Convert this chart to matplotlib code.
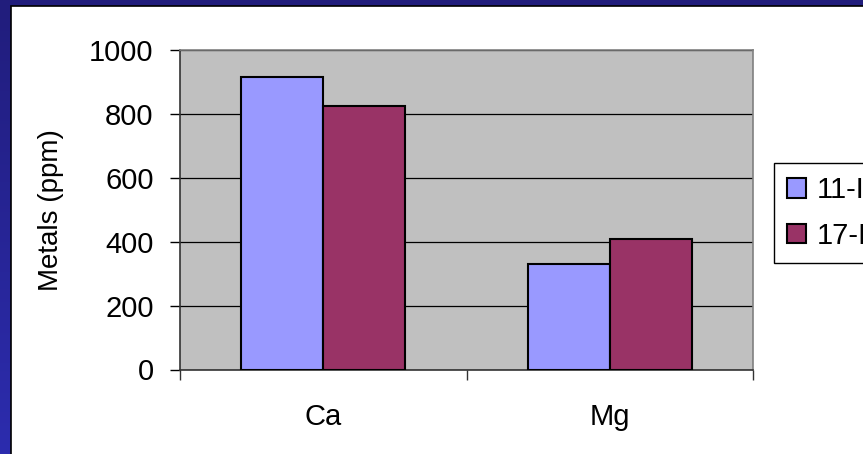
import numpy as np
import matplotlib
matplotlib.use("Agg")
import matplotlib.pyplot as plt
from matplotlib.patches import Rectangle
from matplotlib.colors import LinearSegmentedColormap

plt.rcParams['font.family'] = ['Liberation Sans', 'DejaVu Sans']

categories = ["Ca", "Mg"]
series_labels = ["11-I", "17-I"]
series_values = [
    [915, 330],   # 11-I
    [825, 410],   # 17-I
]
series_colors = ["#9999FF", "#993366"]
y_ticks = [0, 200, 400, 600, 800, 1000]
y_label = "Metals (ppm)"

W, H = 863, 454
fig = plt.figure(figsize=(W / 100, H / 100), dpi=100)

# slide-style blue backdrop with a vertical gradient
bg = fig.add_axes([0, 0, 1, 1], zorder=-10)
grad = np.linspace(0, 1, 256).reshape(-1, 1)
cmap = LinearSegmentedColormap.from_list("slide", ["#211d7c", "#2c2cae"])
bg.imshow(grad, aspect="auto", cmap=cmap, extent=[0, 1, 0, 1], origin="upper")
bg.set_xlim(0, 1)
bg.set_ylim(0, 1)
bg.axis("off")
# white content panel
bg.add_patch(Rectangle((11 / W, -0.01), 1.0, (H - 6) / H + 0.01,
                       facecolor="white", edgecolor="black", linewidth=1.2,
                       transform=bg.transAxes))

# plot area
ax_left, ax_right = 180 / W, 753 / W
ax_bottom, ax_top = (H - 369.5) / H, (H - 50) / H
ax = fig.add_axes([ax_left, ax_bottom, ax_right - ax_left, ax_top - ax_bottom])
ax.set_facecolor("#C0C0C0")

n_series = len(series_values)
bar_w = 1 / 3.5
x = np.arange(len(categories))
for i, (vals, lab, col) in enumerate(zip(series_values, series_labels, series_colors)):
    offs = (i - (n_series - 1) / 2) * bar_w
    ax.bar(x + offs, vals, width=bar_w, color=col, edgecolor="black",
           linewidth=1.5, label=lab, zorder=3)

ax.set_xlim(-0.5, len(categories) - 0.5)
ax.set_ylim(0, 1000)
ax.set_yticks(y_ticks)
ax.set_yticklabels([str(v) for v in y_ticks], fontsize=21)
ax.yaxis.grid(True, color="black", linewidth=0.9, zorder=1)
ax.set_axisbelow(True)
ax.tick_params(axis="y", direction="out", length=7, width=1, pad=12, colors="black")

ax.set_xticks(x)
ax.set_xticklabels(categories, fontsize=21)
ax.tick_params(axis="x", which="major", length=0, pad=24)
ax.set_xticks(np.arange(len(categories) + 1) - 0.5, minor=True)
ax.tick_params(axis="x", which="minor", direction="out", length=7, width=1, color="#333333")

for side in ["top", "right"]:
    ax.spines[side].set_color("#808080")
    ax.spines[side].set_linewidth(1.2)
ax.spines["left"].set_color("#333333")
ax.spines["bottom"].set_color("#333333")
ax.spines["left"].set_linewidth(1.2)
ax.spines["bottom"].set_linewidth(1.2)

ax.set_ylabel(y_label, fontsize=20)
ax.yaxis.set_label_coords(-(180 - 64) / (753 - 180), 0.5)

leg = fig.legend(loc="upper left", bbox_to_anchor=(774 / W, 1 - 163 / H),
                 borderaxespad=0, fontsize=21, frameon=True, fancybox=False,
                 edgecolor="black", framealpha=1, handlelength=0.65,
                 handleheight=0.65, handletextpad=0.35, labelspacing=0.6,
                 borderpad=0.45)
leg.get_frame().set_linewidth(1.0)

fig.savefig("out.png", dpi=100)
